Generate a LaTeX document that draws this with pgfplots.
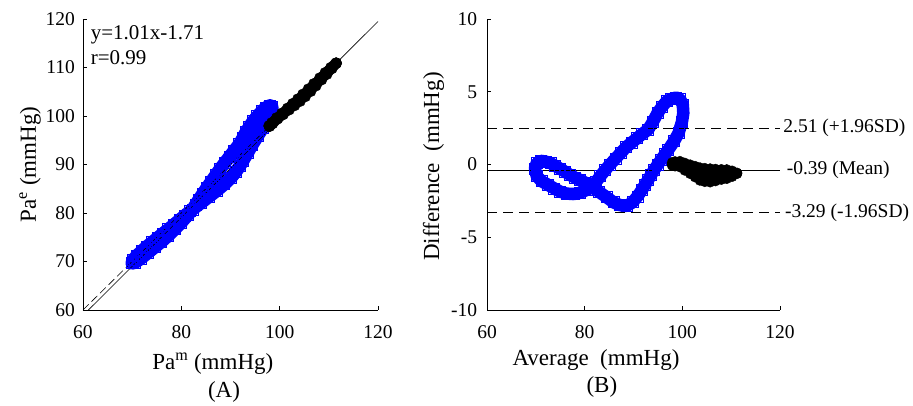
\documentclass[border=0pt]{standalone}
\usepackage{fontspec}
\setmainfont{Liberation Serif}
\usepackage{pgfplots}
\pgfplotsset{compat=1.18}

\newcommand{\fs}{\fontsize{19.5}{23}\selectfont}
\newcommand{\fl}{\fontsize{23}{27}\selectfont}

\pgfplotsset{
  panel/.style={
    scale only axis, height=291pt, anchor=south west,
    axis x line*=bottom, axis y line*=left,
    axis line style={black, line width=0.8pt, -},
    tick align=inside, major tick length=4pt,
    tick style={black, line width=0.7pt},
    xmin=60, xmax=120, xtick={60,80,100,120},
    xticklabels={60,80,100,120},
    ticklabel style={font=\fs},
    xticklabel style={inner sep=0pt, anchor=north, yshift=-15pt},
    clip=false,
  },
  blueband/.style={blue, line width=#1, line join=round, line cap=round},
  bluesq/.style={only marks, blue, mark=square, mark size=#1,
    mark options={line width=0.8pt}},
  blackdots/.style={only marks, black, mark=*, mark size=#1},
}

\begin{document}
\fs
\begin{tikzpicture}
\useasboundingbox (0pt,0pt) rectangle (913pt,406pt);

% ---- (A) estimated vs measured
\begin{axis}[panel, at={(83pt,96pt)}, width=295pt,
  ymin=60, ymax=120, ytick={60,70,80,90,100,110,120},
  yticklabels={60,70,80,90,100,110,120},
  yticklabel style={inner sep=0pt, anchor=east, xshift=-8pt}]
\addplot[blueband=13pt] coordinates {
(82.275,80.725)(83.95,82.05)(85.625,83.375)(87.2,84.6)(88.7,85.9)(90.025,87.175)
(91.1,88.5)(91.9,89.7)(92.575,90.825)(93.525,92.475)(94.39,94.01)(95.525,95.875)
(96.6,97.6)(97.5,99.1)(98.13,100.27)(98.45,101.35)(98.44,101.96)(98.05,102.15)
(97.25,101.75)(96.4,101.0)(95.45,99.95)(94.625,98.975)(93.825,97.775)(93.14,96.66)
(92.525,95.475)(91.8,94.2)(90.75,92.85)(89.8,91.6)(88.85,90.35)(87.9,89.1)
(87.0,87.8)(86.1,86.5)(85.2,85.2)(84.39,84.01)(83.6,82.8)(82.9,81.7)
(82.275,80.725)(81.275,79.525)(79.975,78.025)(78.715,76.685)(77.3,75.3)(75.935,74.065)
(74.625,72.975)(73.2,71.8)(71.775,70.625)(70.6,69.8)(69.95,69.65)(70.15,70.25)
(70.875,71.125)(71.9,72.1)(72.95,73.05)(74.05,73.95)(75.15,74.85)(76.25,75.75)
(77.36,76.64)(78.45,77.55)(79.635,78.565)(80.725,79.475)(81.825,80.375)(82.275,80.725)};
\addplot[bluesq=5.5pt] coordinates {
(82.275,80.725)(83.95,82.05)(85.625,83.375)(87.2,84.6)(88.7,85.9)(90.025,87.175)
(91.1,88.5)(91.9,89.7)(92.575,90.825)(93.525,92.475)(94.39,94.01)(95.525,95.875)
(96.6,97.6)(97.5,99.1)(98.13,100.27)(98.45,101.35)(98.44,101.96)(98.05,102.15)
(97.25,101.75)(96.4,101.0)(95.45,99.95)(94.625,98.975)(93.825,97.775)(93.14,96.66)
(92.525,95.475)(91.8,94.2)(90.75,92.85)(89.8,91.6)(88.85,90.35)(87.9,89.1)
(87.0,87.8)(86.1,86.5)(85.2,85.2)(84.39,84.01)(83.6,82.8)(82.9,81.7)
(81.275,79.525)(79.975,78.025)(78.715,76.685)(77.3,75.3)(75.935,74.065)
(74.625,72.975)(73.2,71.8)(71.775,70.625)(70.6,69.8)(69.95,69.65)(70.15,70.25)
(70.875,71.125)(71.9,72.1)(72.95,73.05)(74.05,73.95)(75.15,74.85)(76.25,75.75)
(77.36,76.64)(78.45,77.55)(79.635,78.565)(80.725,79.475)(81.825,80.375)};
\addplot[black, line width=11pt, line cap=round] coordinates {
(97.9,97.9)(99.5,99.5)(101.75,101.45)(103.9,103.25)(106.1,105.3)(108.35,107.65)(111.5,110.9)};
\addplot[blackdots=5.5pt] coordinates {
(97.83,97.97)(98.395,98.605)(99.385,99.615)(100.445,100.555)(101.605,101.595)
(102.655,102.545)(103.705,103.495)(104.725,104.475)(105.84,105.56)(106.955,106.645)
(108.165,107.835)(109.27,108.93)(110.415,109.985)(111.485,110.915)
(97.935,97.865)(98.56,98.44)(99.59,99.41)(100.705,100.295)(101.92,101.28)
(103.035,102.165)(104.15,103.05)(105.195,104.005)(106.31,105.09)(107.37,106.23)
(108.52,107.48)(109.59,108.61)(110.62,109.78)(111.52,110.88)};
% identity (dashed) and regression y=1.01x-1.71 (solid)
\addplot[black, line width=0.6pt, dash pattern=on 8pt off 4pt] coordinates {(60,60)(98,98)};
\addplot[black, line width=0.6pt] coordinates {(61.1,60)(120,119.49)};
\node[anchor=west, inner sep=0pt, font=\fontsize{21}{25}\selectfont] at (rel axis cs:0.026,0.947) {y=1.01x-1.71};
\node[anchor=west, inner sep=0pt, font=\fontsize{21}{25}\selectfont] at (rel axis cs:0.026,0.868) {r=0.99};
\node[anchor=base, font=\fl] at (rel axis cs:0.44,-0.203) {Pa\textsuperscript{m} (mmHg)};
\node[anchor=base, font=\fl] at (rel axis cs:0.478,-0.30) {(A)};
\node[rotate=90, anchor=base, font=\fl] at (rel axis cs:-0.16,0.5) {Pa\textsuperscript{e} (mmHg)};
\end{axis}

% ---- (B) Bland-Altman
\begin{axis}[panel, at={(487pt,96pt)}, width=293pt,
  ymin=-10, ymax=10, ytick={-10,-5,0,5,10},
  yticklabels={-10,-5,0,5,10},
  yticklabel style={inner sep=0pt, anchor=east, xshift=-9.7pt}]
\addplot[blueband=12.5pt] coordinates {
(81.5,-1.55)(83.0,-1.9)(84.5,-2.25)(85.9,-2.6)(87.3,-2.8)(88.6,-2.85)(89.8,-2.6)
(90.8,-2.2)(91.7,-1.75)(93.0,-1.05)(94.2,-0.38)(95.7,0.35)(97.1,1.0)(98.3,1.6)
(99.2,2.14)(99.9,2.9)(100.2,3.52)(100.1,4.1)(99.5,4.5)(98.7,4.6)(97.7,4.5)
(96.8,4.35)(95.8,3.95)(94.9,3.52)(94.0,2.95)(93.0,2.4)(91.8,2.1)(90.7,1.8)
(89.6,1.5)(88.5,1.2)(87.4,0.8)(86.3,0.4)(85.2,0.0)(84.2,-0.38)(83.2,-0.8)
(82.3,-1.2)(81.5,-1.55)(80.4,-1.75)(79.0,-1.95)(77.7,-2.03)(76.3,-2.0)(75.0,-1.87)
(73.8,-1.65)(72.5,-1.4)(71.2,-1.15)(70.2,-0.8)(69.8,-0.3)(70.2,0.1)(71.0,0.25)
(72.0,0.2)(73.0,0.1)(74.0,-0.1)(75.0,-0.3)(76.0,-0.5)(77.0,-0.72)(78.0,-0.9)
(79.1,-1.07)(80.1,-1.25)(81.1,-1.45)(81.5,-1.55)};
\addplot[bluesq=5.5pt] coordinates {
(81.5,-1.55)(83.0,-1.9)(84.5,-2.25)(85.9,-2.6)(87.3,-2.8)(88.6,-2.85)(89.8,-2.6)
(90.8,-2.2)(91.7,-1.75)(92.35,-1.4)(93.0,-1.05)(93.6,-0.7)(94.2,-0.38)(95.0,0.0)
(95.7,0.35)(96.4,0.7)(97.1,1.0)(98.3,1.6)(99.2,2.14)(99.9,2.9)(100.2,3.52)
(100.1,4.1)(99.5,4.5)(98.7,4.6)(97.7,4.5)(96.8,4.35)(95.8,3.95)(94.9,3.52)
(94.0,2.95)(93.0,2.4)(91.8,2.1)(90.7,1.8)(89.6,1.5)(88.5,1.2)(87.4,0.8)
(86.3,0.4)(85.2,0.0)(84.2,-0.38)(83.2,-0.8)(82.3,-1.2)(80.4,-1.75)(79.0,-1.95)
(77.7,-2.03)(76.3,-2.0)(75.0,-1.87)(73.8,-1.65)(72.5,-1.4)(71.2,-1.15)(70.2,-0.8)
(69.8,-0.3)(70.2,0.1)(71.0,0.25)(72.0,0.2)(73.0,0.1)(74.0,-0.1)(75.0,-0.3)
(76.0,-0.5)(77.0,-0.72)(78.0,-0.9)(79.1,-1.07)(80.1,-1.25)(81.1,-1.45)};
\addplot[black, line width=9pt, line cap=round, line join=round] coordinates {
(97.9,0.035)(99.5,0.025)(101.6,-0.325)(103.6,-0.655)(105.7,-0.75)(108,-0.685)(111.2,-0.605)};
\addplot[blackdots=5pt] coordinates {
(97.9,0.14)(98.5,0.21)(99.5,0.23)(100.5,0.11)(101.6,-0.01)(102.6,-0.11)(103.6,-0.21)
(104.6,-0.25)(105.7,-0.28)(106.8,-0.31)(108,-0.33)(109.1,-0.34)(110.2,-0.43)(111.2,-0.57)
(97.9,0.035)(98.5,0.045)(99.5,0.025)(100.5,-0.15)(101.6,-0.325)(102.6,-0.49)(103.6,-0.655)
(104.6,-0.72)(105.7,-0.75)(106.8,-0.725)(108,-0.685)(109.1,-0.66)(110.2,-0.635)(111.2,-0.605)
(97.9,-0.07)(98.5,-0.12)(99.5,-0.18)(100.5,-0.41)(101.6,-0.64)(102.6,-0.87)(103.6,-1.1)
(104.6,-1.19)(105.7,-1.22)(106.8,-1.14)(108,-1.04)(109.1,-0.98)(110.2,-0.84)(111.2,-0.64)};
% limits of agreement and mean
\addplot[black, line width=0.7pt, dash pattern=on 10pt off 6pt] coordinates {(60,2.51)(120,2.51)};
\addplot[black, line width=0.7pt] coordinates {(60,-0.39)(120,-0.39)};
\addplot[black, line width=0.7pt, dash pattern=on 10pt off 6pt] coordinates {(60,-3.29)(120,-3.29)};
\node[anchor=west, inner sep=0pt] at (axis cs:120.65,2.51) {2.51 (+1.96SD)};
\node[anchor=west, inner sep=0pt] at (axis cs:121.35,-0.39) {-0.39 (Mean)};
\node[anchor=west, inner sep=0pt] at (axis cs:121.0,-3.29) {-3.29 (-1.96SD)};
\node[anchor=base, font=\fl] at (rel axis cs:0.372,-0.19) {Average\ \ (mmHg)};
\node[anchor=base, font=\fl] at (rel axis cs:0.392,-0.285) {(B)};
\node[rotate=90, anchor=base, font=\fl] at (rel axis cs:-0.163,0.493) {Difference\ \ (mmHg)};
\end{axis}
\end{tikzpicture}
\end{document}
